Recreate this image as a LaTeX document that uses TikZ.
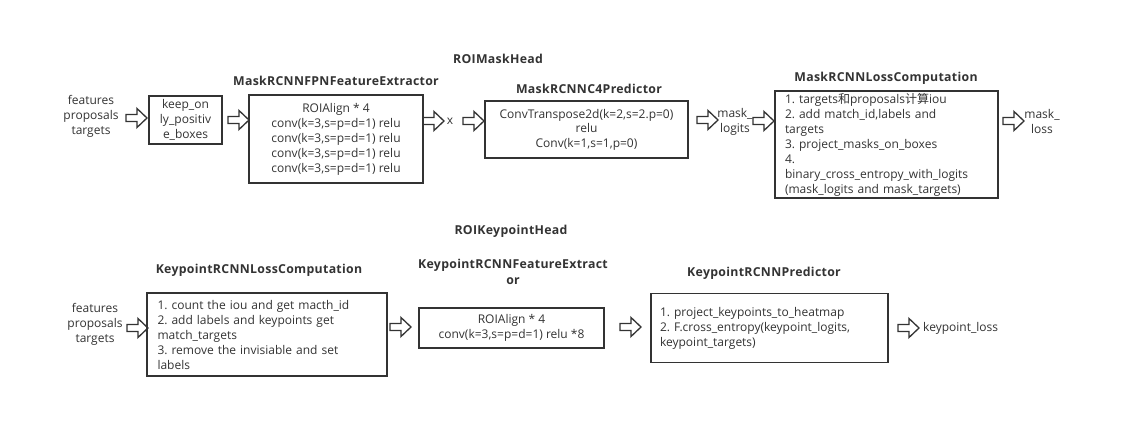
\documentclass[tikz,border=0pt]{standalone}
\usepackage{fontspec}
\setmainfont{Open Sans}
\newfontfamily\cjk{Noto Sans CJK SC}
\newfontfamily\ttlfont[LetterSpace=2.5]{Open Sans}
\definecolor{ink}{HTML}{333333}
\newcommand{\bodyfont}{\frenchspacing\fontsize{12}{15}\selectfont}
\newcommand{\headfont}{\ttlfont\bfseries\fontsize{12.3}{16}\selectfont}
\tikzset{
  box/.style={draw=ink, line width=1.6pt, inner sep=0pt, align=center, text=ink, font=\bodyfont},
  lbox/.style={box, align=left, inner xsep=10pt},
  plain/.style={inner sep=0pt, align=center, text=ink, font=\bodyfont},
  head/.style={inner sep=0pt, align=center, text=ink, font=\headfont},
  barrow/.pic={\draw[ink, line width=1.3pt, line join=miter] (0,-3.5) -- (11,-3.5) -- (11,-9.5) -- (21,0) -- (11,9.5) -- (11,3.5) -- (0,3.5) -- cycle;}
}
\begin{document}
\begin{tikzpicture}[x=1pt,y=-1pt]
\useasboundingbox[fill=white] (0,0) rectangle (1123,436);

% ---------- ROIMaskHead ----------
\node[head] (t1) at (498,59) {ROIMaskHead};
\node[plain] (in1) at (91,116) {features\\proposals\\targets};
\pic at (126,118) {barrow};
\node[box, minimum width=73, minimum height=48] (keep) at (185.5,120) {keep\_on\\ly\_positiv\\e\_boxes};
\pic at (228,120) {barrow};
\node[head] (t2) at (336,81) {MaskRCNNFPNFeatureExtractor};
\node[box, minimum width=174, minimum height=88] (fpn) at (336,139)
  {ROIAlign * 4\\conv(k=3,s=p=d=1) relu\\conv(k=3,s=p=d=1) relu\\conv(k=3,s=p=d=1) relu\\conv(k=3,s=p=d=1) relu};
\pic at (423,121) {barrow};
\node[plain] (x) at (450,121) {x};
\pic at (463,121) {barrow};
\node[head] (t3) at (589,89) {MaskRCNNC4Predictor};
\node[box, minimum width=203, minimum height=57, font=\frenchspacing\fontsize{12}{14.5}\selectfont] (c4) at (586.5,129.5)
  {ConvTranspose2d(k=2,s=2.p=0)\\relu\\Conv(k=1,s=1,p=0)};
\pic at (697,120) {barrow};
\node[plain] (ml) at (735,122) {mask\_\\logits};
\pic at (753,121) {barrow};
\node[head] (t4) at (886,78) {MaskRCNNLossComputation};
\node[lbox, text width=203, minimum width=223, minimum height=107] (mloss) at (886.5,144.5)
  {1. targets{\cjk 和}proposals{\cjk 计算}iou\\2. add match\_id,labels and\\targets\\3. project\_masks\_on\_boxes\\4.\\binary\_cross\_entropy\_with\_logits\\(mask\_logits and mask\_targets)};
\pic at (1003,121) {barrow};
\node[plain] (mlo) at (1042,121) {mask\_\\loss};

% ---------- ROIKeypointHead ----------
\node[head] (t5) at (511,231) {ROIKeypointHead};
\node[plain] (in2) at (95,324) {features\\proposals\\targets};
\pic at (127,328) {barrow};
\node[head] (t6) at (259,270) {KeypointRCNNLossComputation};
\node[lbox, text width=219, inner xsep=10.5pt, minimum width=240, minimum height=83] (kloss) at (267,334.5)
  {1. count the iou and get macth\_id\\2. add labels and keypoints get\\match\_targets\\3. remove the invisiable and set\\labels};
\pic at (390,327) {barrow};
\node[head] (t7) at (513,272) {KeypointRCNNFeatureExtract\\or};
\node[box, minimum width=185, minimum height=40] (kfe) at (511.5,328)
  {ROIAlign * 4\\conv(k=3,s=p=d=1) relu *8};
\pic at (620,327) {barrow};
\node[head] (t8) at (764,273) {KeypointRCNNPredictor};
\node[lbox, text width=219, inner xsep=9pt, minimum width=237, minimum height=69] (kpred) at (769.5,328)
  {1. project\_keypoints\_to\_heatmap\\2. F.cross\_entropy(keypoint\_logits,\\keypoint\_targets)};
\pic at (898,328) {barrow};
\node[plain, anchor=west] (kl) at (923,328) {keypoint\_loss};
\end{tikzpicture}
\end{document}
